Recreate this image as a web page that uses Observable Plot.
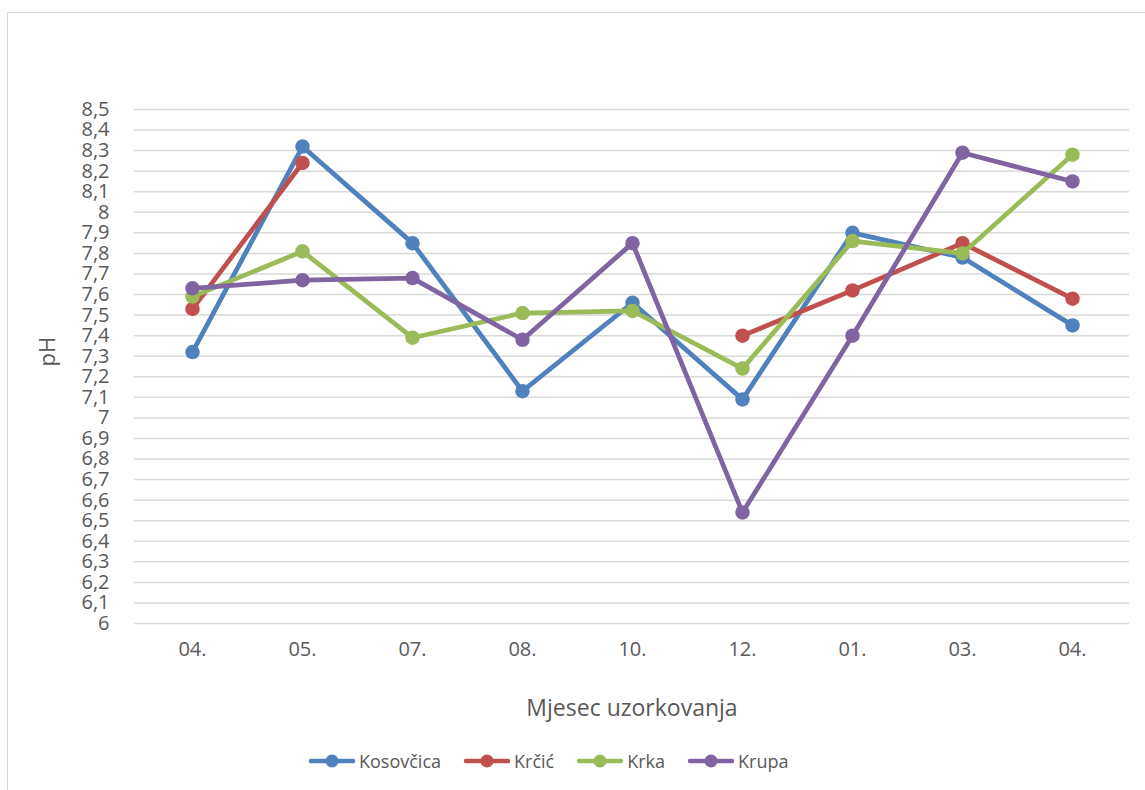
<!DOCTYPE html>
<html>
<head>
<meta charset="utf-8">
<script src="https://cdn.jsdelivr.net/npm/d3@7"></script>
<script src="https://cdn.jsdelivr.net/npm/@observablehq/plot@0.6"></script>
<style>
  html, body { margin: 0; padding: 0; background: #fff; width: 1145px; height: 790px; overflow: hidden; }
  #frame { position: absolute; left: 7px; top: 12px; width: 1150px; height: 790px; border: 1.5px solid #d9d9d9; box-sizing: border-box; }
  #chart { position: absolute; left: 0; top: 0; }
  #legend { position: absolute; left: 308px; top: 746px; height: 30px; display: flex; justify-content: flex-start; align-items: center; font-family: "Open Sans", sans-serif; font-size: 18px; color: #595959; white-space: nowrap; }
  .item { display: flex; align-items: center; margin: 0 22px 0 0; }
  .item svg { margin-right: 3px; }
</style>
</head>
<body>
<div id="frame"></div>
<div id="chart"></div>
<div id="legend"></div>
<script>
const months = ["04.", "05.", "07.", "08.", "10.", "12.", "01.", "03.", "04."];
const seriesNames = ["Kosovčica", "Krčić", "Krka", "Krupa"];
const colors = ["#4F81BD", "#C0504D", "#9BBB59", "#8064A2"];
const kosovcica = [7.32, 8.32, 7.85, 7.13, 7.56, 7.09, 7.90, 7.78, 7.45];
const krcic     = [7.53, 8.24, null, null, null, 7.40, 7.62, 7.85, 7.58];
const krka      = [7.59, 7.81, 7.39, 7.51, 7.52, 7.24, 7.86, 7.80, 8.28];
const krupa     = [7.63, 7.67, 7.68, 7.38, 7.85, 6.54, 7.40, 8.29, 8.15];
const yTicks = [6, 6.1, 6.2, 6.3, 6.4, 6.5, 6.6, 6.7, 6.8, 6.9, 7, 7.1, 7.2, 7.3, 7.4, 7.5, 7.6, 7.7, 7.8, 7.9, 8, 8.1, 8.2, 8.3, 8.4, 8.5];

const allSeries = [kosovcica, krcic, krka, krupa];
const rows = [];
allSeries.forEach((vals, s) => {
  vals.forEach((v, i) => rows.push({series: seriesNames[s], i, v: v == null ? NaN : v}));
});

const marks = [
  Plot.ruleY(yTicks, {stroke: "#d9d9d9", strokeWidth: 1.5}),
  Plot.axisY({ticks: yTicks, tickSize: 0, tickPadding: 25, tickFormat: d => String(d).replace(".", ","), fill: "#595959", label: null}),
  Plot.axisX({tickSize: 0, tickPadding: 18, tickFormat: i => months[i], fill: "#595959", label: null}),
  Plot.text(["pH"], {frameAnchor: "left", dx: -87, rotate: -90, fontSize: 22, fill: "#595959"}),
  Plot.text(["Mjesec uzorkovanja"], {frameAnchor: "bottom", dy: 92, fontSize: 23, fill: "#595959"})
];
seriesNames.forEach((name, s) => {
  const data = rows.filter(r => r.series === name);
  marks.push(Plot.line(data, {x: "i", y: "v", stroke: colors[s], strokeWidth: 4.75, strokeLinejoin: "round", strokeLinecap: "round"}));
  marks.push(Plot.dot(data.filter(r => !isNaN(r.v)), {x: "i", y: "v", r: 7.25, fill: colors[s], stroke: "none"}));
});

const chart = Plot.plot({
  width: 1145,
  height: 730,
  marginLeft: 134,
  marginRight: 16,
  marginTop: 109,
  marginBottom: 107,
  style: {fontFamily: "'Open Sans', sans-serif", fontSize: "20px", background: "transparent", overflow: "visible"},
  x: {type: "point", domain: d3.range(months.length), padding: 0.5},
  y: {domain: [6, 8.5]},
  marks
});
document.getElementById("chart").appendChild(chart);

const legend = document.getElementById("legend");
seriesNames.forEach((name, s) => {
  const item = document.createElement("div");
  item.className = "item";
  item.innerHTML = `<svg width="48" height="16"><line x1="3" y1="8" x2="45" y2="8" stroke="${colors[s]}" stroke-width="4.5" stroke-linecap="round"/><circle cx="24" cy="8" r="6.5" fill="${colors[s]}"/></svg><span>${name}</span>`;
  legend.appendChild(item);
});
</script>
</body>
</html>
